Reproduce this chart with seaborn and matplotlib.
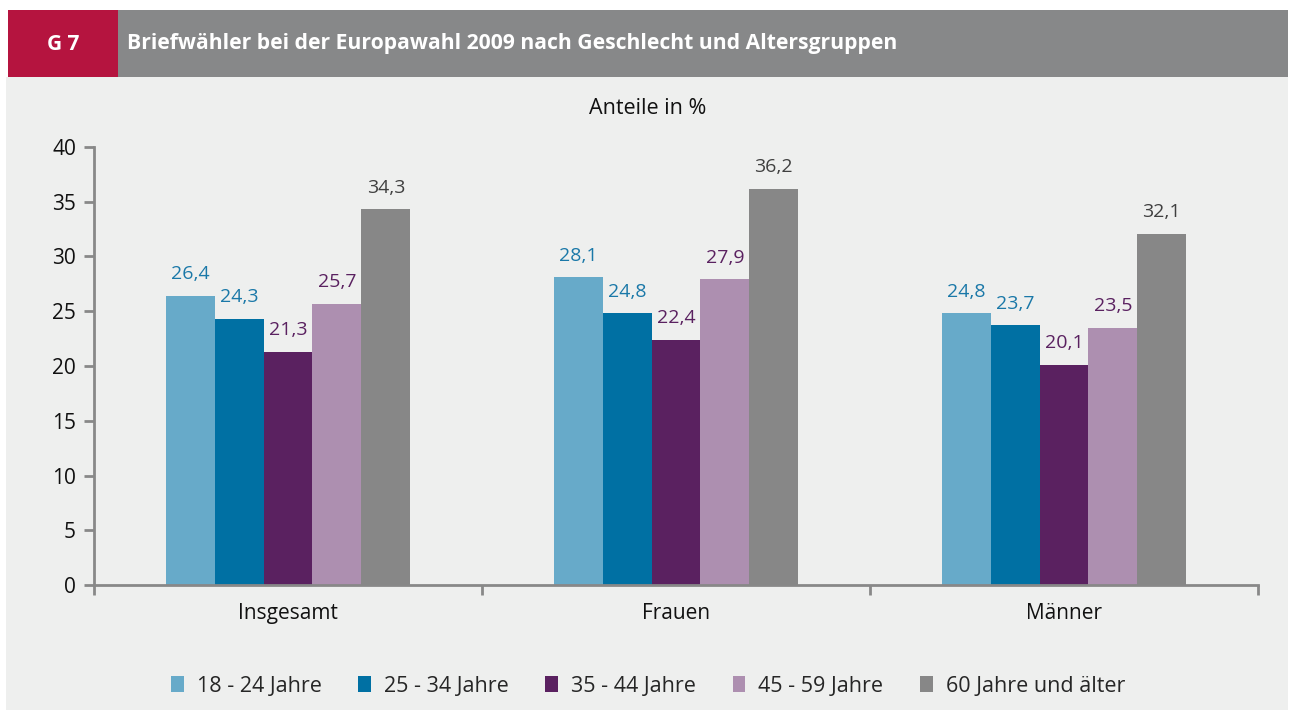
import matplotlib
matplotlib.use("Agg")
import matplotlib.pyplot as plt
import matplotlib.patches as mpatches
import seaborn as sns
import pandas as pd

categories = ["Insgesamt", "Frauen", "Männer"]
age_groups = ["18 - 24 Jahre", "25 - 34 Jahre", "35 - 44 Jahre", "45 - 59 Jahre", "60 Jahre und älter"]
v_18_24 = [26.4, 28.1, 24.8]
v_25_34 = [24.3, 24.8, 23.7]
v_35_44 = [21.3, 22.4, 20.1]
v_45_59 = [25.7, 27.9, 23.5]
v_60 = [34.3, 36.2, 32.1]
yticks = [0, 5, 10, 15, 20, 25, 30, 35, 40]

bar_colors = ["#67AAC9", "#0070A3", "#5A2160", "#AD8FB0", "#878787"]
label_colors = ["#1A78A8", "#1A78A8", "#5A2160", "#5A2160", "#404040"]
BG = "#EEEFEE"

rows = []
for grp, vals in zip(age_groups, [v_18_24, v_25_34, v_35_44, v_45_59, v_60]):
    for cat, v in zip(categories, vals):
        rows.append({"Kategorie": cat, "Alter": grp, "Wert": v})
df = pd.DataFrame(rows)

sns.set_style("white")
plt.rcParams["font.family"] = ["Open Sans", "DejaVu Sans"]

fig = plt.figure(figsize=(12.9, 7.1), dpi=100)
W, H = 1290, 710
fig.patch.set_facecolor("white")

# background panel and header
fig.add_artist(mpatches.Rectangle((6 / W, 0), 1 - 8 / W, 1 - 77 / H, transform=fig.transFigure,
                                  facecolor=BG, edgecolor="none", zorder=0))
fig.add_artist(mpatches.Rectangle((8 / W, 1 - 77 / H), 110 / W, 67 / H, transform=fig.transFigure,
                                  facecolor="#B5143F", edgecolor="none", zorder=0))
fig.add_artist(mpatches.Rectangle((118 / W, 1 - 77 / H), 1170 / W, 67 / H, transform=fig.transFigure,
                                  facecolor="#878889", edgecolor="none", zorder=0))
fig.text(63 / W, 1 - 44 / H, "G 7", color="white", fontsize=15, fontweight="bold",
         ha="center", va="center")
fig.text(127 / W, 1 - 44 / H, "Briefwähler bei der Europawahl 2009 nach Geschlecht und Altersgruppen",
         color="white", fontsize=15.2, fontweight="bold", ha="left", va="center")
fig.text(648 / W, 1 - 109 / H, "Anteile in %", color="#111111", fontsize=15.5, ha="center", va="center")

ax = fig.add_axes([94 / W, 1 - 585 / H, (1258 - 94) / W, (585 - 147) / H])
ax.set_facecolor(BG)

sns.barplot(data=df, x="Kategorie", y="Wert", hue="Alter", order=categories, hue_order=age_groups,
            palette=bar_colors, width=0.63, gap=0, saturation=1, ax=ax, legend=False,
            linewidth=0, errorbar=None)

for cont, lc in zip(ax.containers, label_colors):
    ax.bar_label(cont, labels=[f"{b.get_height():.1f}".replace(".", ",") for b in cont],
                 padding=9, color=lc, fontsize=14)

ax.set_ylim(0, 40)
ax.set_xlim(-0.5, 2.5)
ax.set_yticks(yticks)
ax.set_yticklabels([str(t) for t in yticks], fontsize=15, color="#111111")
ax.set_xticks([0, 1, 2])
ax.set_xticklabels(categories, fontsize=15, color="#111111")
ax.set_xticks([-0.5, 0.5, 1.5, 2.5], minor=True)
ax.tick_params(axis="x", which="major", bottom=True, length=0, pad=13)
ax.tick_params(axis="x", which="minor", bottom=True, length=7, width=2, color="#888888", direction="out")
ax.tick_params(axis="y", left=True, length=7, width=2, color="#888888", direction="out", pad=6)
ax.set_xlabel("")
ax.set_ylabel("")
for s in ["top", "right"]:
    ax.spines[s].set_visible(False)
for s in ["left", "bottom"]:
    ax.spines[s].set_color("#888888")
    ax.spines[s].set_linewidth(2)

handles = [mpatches.Patch(facecolor=c, edgecolor="none") for c in bar_colors]
fig.legend(handles, age_groups, loc="center", bbox_to_anchor=(648 / W, 1 - 686 / H), ncol=5,
           frameon=False, fontsize=15.5, handlelength=0.6, handleheight=0.8, handletextpad=0.6,
           columnspacing=1.7)

fig.savefig("out.png", dpi=100, facecolor=fig.get_facecolor())
